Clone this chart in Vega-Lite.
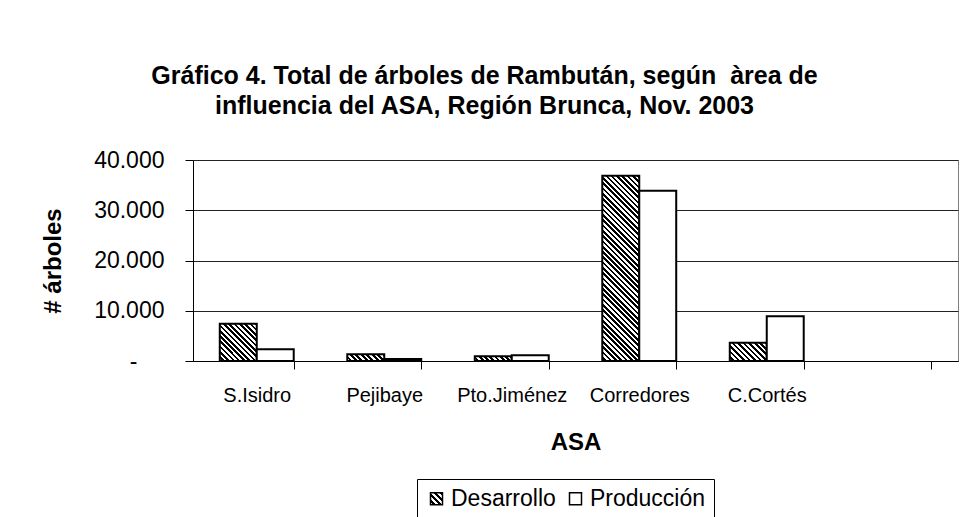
{
"$schema": "https://vega.github.io/schema/vega-lite/v6.json",
"width": 765,
"height": 201,
"autosize": {"type": "none"},
"padding": {"left": 193, "top": 160, "right": 10, "bottom": 156},
"background": "white",
"config": {"font": "Liberation Sans", "view": {"stroke": "#808080", "strokeWidth": 1}},
"title": {"text": ["Gráfico 4. Total de árboles de Rambután, según\u00a0 àrea de", "influencia del ASA, Región Brunca, Nov. 2003"], "fontSize": 25, "fontWeight": "bold", "color": "black", "lineHeight": 30, "anchor": "middle", "frame": "group", "dx": -91, "offset": 30},
"data": {"values": [
{"ASA": "S.Isidro", "Serie": "Desarrollo", "valor": 7430},
{"ASA": "S.Isidro", "Serie": "Producción", "valor": 2330},
{"ASA": "Pejibaye", "Serie": "Desarrollo", "valor": 1330},
{"ASA": "Pejibaye", "Serie": "Producción", "valor": 400},
{"ASA": "Pto.Jiménez", "Serie": "Desarrollo", "valor": 930},
{"ASA": "Pto.Jiménez", "Serie": "Producción", "valor": 1130},
{"ASA": "Corredores", "Serie": "Desarrollo", "valor": 36850},
{"ASA": "Corredores", "Serie": "Producción", "valor": 33900},
{"ASA": "C.Cortés", "Serie": "Desarrollo", "valor": 3650},
{"ASA": "C.Cortés", "Serie": "Producción", "valor": 8900}
]},
"mark": {"type": "bar", "stroke": "black", "strokeWidth": 2},
"encoding": {
"x": {"field": "ASA", "type": "nominal", "sort": null,
 "scale": {"domain": ["S.Isidro", "Pejibaye", "Pto.Jiménez", "Corredores", "C.Cortés", ""], "paddingInner": 0.42, "paddingOuter": 0.21},
 "axis": {"title": "ASA", "titleFontSize": 24, "titleFontWeight": "bold", "titleColor": "black", "titlePadding": 25, "labelAngle": 0, "labelFontSize": 20, "labelColor": "black", "labelPadding": 16, "tickBand": "extent", "tickSize": 8, "tickColor": {"condition": {"test": "datum.extra", "value": "transparent"}, "value": "black"}, "domainColor": "black", "grid": false}},
"xOffset": {"field": "Serie", "type": "nominal", "scale": {"domain": ["Desarrollo", "Producción"], "paddingInner": 0, "paddingOuter": 0}},
"y": {"field": "valor", "type": "quantitative",
 "scale": {"domain": [0, 40000], "nice": false},
 "axis": {"title": "# árboles", "titleFontSize": 24, "titleFontWeight": "bold", "titleColor": "black", "titlePadding": 28, "values": [0, 10000, 20000, 30000, 40000], "labelExpr": "datum.value == 0 ? '-' : replace(format(datum.value, ','), ',', '.')", "labelFontSize": 23, "labelColor": "black", "labelPadding": {"condition": {"test": "datum.value === 0", "value": 48}, "value": 21}, "tickSize": 8, "tickColor": "black", "domainColor": "black", "grid": true, "gridColor": "#222222", "gridWidth": 1}},
"fill": {"field": "Serie", "type": "nominal",
 "scale": {"domain": ["Desarrollo", "Producción"], "range": [{"expr": "{gradient: 'linear', x1: 0, y1: 1, x2: 1, y2: 0, stops: [{offset: 0.125, color: '#fff'}, {offset: 0.125, color: '#000'}, {offset: 0.25, color: '#000'}, {offset: 0.25, color: '#fff'}, {offset: 0.375, color: '#fff'}, {offset: 0.375, color: '#000'}, {offset: 0.5, color: '#000'}, {offset: 0.5, color: '#fff'}, {offset: 0.625, color: '#fff'}, {offset: 0.625, color: '#000'}, {offset: 0.75, color: '#000'}, {offset: 0.75, color: '#fff'}, {offset: 0.875, color: '#fff'}, {offset: 0.875, color: '#000'}]}"}, "#ffffff"]},
 "legend": {"orient": "none", "legendX": 224, "legendY": 319, "direction": "horizontal", "title": null, "strokeColor": "black", "padding": 8, "labelFontSize": 23, "labelColor": "black", "symbolType": "square", "symbolSize": 144, "symbolStrokeColor": "black", "symbolStrokeWidth": 1.5, "symbolOpacity": 1, "labelOffset": 3, "columnPadding": 8,
  "encode": {"symbols": {"update": {"stroke": {"value": "black"}, "strokeWidth": {"value": 1.5}}}}},
 "condition": [
 {"test": "datum.ASA === 'S.Isidro' && datum.Serie === 'Desarrollo'", "value": {"gradient": "linear", "x1": 0, "y1": 1, "x2": 0.9959, "y2": -0.004, "stops": [
{"offset":0.0357,"color":"#fff"},{"offset":0.0357,"color":"#000"},
{"offset":0.0714,"color":"#000"},{"offset":0.0714,"color":"#fff"},
{"offset":0.1071,"color":"#fff"},{"offset":0.1071,"color":"#000"},
{"offset":0.1429,"color":"#000"},{"offset":0.1429,"color":"#fff"},
{"offset":0.1786,"color":"#fff"},{"offset":0.1786,"color":"#000"},
{"offset":0.2143,"color":"#000"},{"offset":0.2143,"color":"#fff"},
{"offset":0.25,"color":"#fff"},{"offset":0.25,"color":"#000"},
{"offset":0.2857,"color":"#000"},{"offset":0.2857,"color":"#fff"},
{"offset":0.3214,"color":"#fff"},{"offset":0.3214,"color":"#000"},
{"offset":0.3571,"color":"#000"},{"offset":0.3571,"color":"#fff"},
{"offset":0.3929,"color":"#fff"},{"offset":0.3929,"color":"#000"},
{"offset":0.4286,"color":"#000"},{"offset":0.4286,"color":"#fff"},
{"offset":0.4643,"color":"#fff"},{"offset":0.4643,"color":"#000"},
{"offset":0.5,"color":"#000"},{"offset":0.5,"color":"#fff"},
{"offset":0.5357,"color":"#fff"},{"offset":0.5357,"color":"#000"},
{"offset":0.5714,"color":"#000"},{"offset":0.5714,"color":"#fff"},
{"offset":0.6071,"color":"#fff"},{"offset":0.6071,"color":"#000"},
{"offset":0.6429,"color":"#000"},{"offset":0.6429,"color":"#fff"},
{"offset":0.6786,"color":"#fff"},{"offset":0.6786,"color":"#000"},
{"offset":0.7143,"color":"#000"},{"offset":0.7143,"color":"#fff"},
{"offset":0.75,"color":"#fff"},{"offset":0.75,"color":"#000"},
{"offset":0.7857,"color":"#000"},{"offset":0.7857,"color":"#fff"},
{"offset":0.8214,"color":"#fff"},{"offset":0.8214,"color":"#000"},
{"offset":0.8571,"color":"#000"},{"offset":0.8571,"color":"#fff"},
{"offset":0.8929,"color":"#fff"},{"offset":0.8929,"color":"#000"},
{"offset":0.9286,"color":"#000"},{"offset":0.9286,"color":"#fff"},
{"offset":0.9643,"color":"#fff"},{"offset":0.9643,"color":"#000"}
 ]}},
 {"test": "datum.ASA === 'Pejibaye' && datum.Serie === 'Desarrollo'", "value": {"gradient": "linear", "x1": 0, "y1": 1, "x2": 1.1436, "y2": 0.7929, "stops": [
{"offset":0.0625,"color":"#fff"},{"offset":0.0625,"color":"#000"},
{"offset":0.125,"color":"#000"},{"offset":0.125,"color":"#fff"},
{"offset":0.1875,"color":"#fff"},{"offset":0.1875,"color":"#000"},
{"offset":0.25,"color":"#000"},{"offset":0.25,"color":"#fff"},
{"offset":0.3125,"color":"#fff"},{"offset":0.3125,"color":"#000"},
{"offset":0.375,"color":"#000"},{"offset":0.375,"color":"#fff"},
{"offset":0.4375,"color":"#fff"},{"offset":0.4375,"color":"#000"},
{"offset":0.5,"color":"#000"},{"offset":0.5,"color":"#fff"},
{"offset":0.5625,"color":"#fff"},{"offset":0.5625,"color":"#000"},
{"offset":0.625,"color":"#000"},{"offset":0.625,"color":"#fff"},
{"offset":0.6875,"color":"#fff"},{"offset":0.6875,"color":"#000"},
{"offset":0.75,"color":"#000"},{"offset":0.75,"color":"#fff"},
{"offset":0.8125,"color":"#fff"},{"offset":0.8125,"color":"#000"},
{"offset":0.875,"color":"#000"},{"offset":0.875,"color":"#fff"},
{"offset":0.9375,"color":"#fff"},{"offset":0.9375,"color":"#000"}
 ]}},
 {"test": "datum.ASA === 'Pto.Jiménez' && datum.Serie === 'Desarrollo'", "value": {"gradient": "linear", "x1": 0, "y1": 1, "x2": 1.1091, "y2": 0.8591, "stops": [
{"offset":0.0625,"color":"#fff"},{"offset":0.0625,"color":"#000"},
{"offset":0.125,"color":"#000"},{"offset":0.125,"color":"#fff"},
{"offset":0.1875,"color":"#fff"},{"offset":0.1875,"color":"#000"},
{"offset":0.25,"color":"#000"},{"offset":0.25,"color":"#fff"},
{"offset":0.3125,"color":"#fff"},{"offset":0.3125,"color":"#000"},
{"offset":0.375,"color":"#000"},{"offset":0.375,"color":"#fff"},
{"offset":0.4375,"color":"#fff"},{"offset":0.4375,"color":"#000"},
{"offset":0.5,"color":"#000"},{"offset":0.5,"color":"#fff"},
{"offset":0.5625,"color":"#fff"},{"offset":0.5625,"color":"#000"},
{"offset":0.625,"color":"#000"},{"offset":0.625,"color":"#fff"},
{"offset":0.6875,"color":"#fff"},{"offset":0.6875,"color":"#000"},
{"offset":0.75,"color":"#000"},{"offset":0.75,"color":"#fff"},
{"offset":0.8125,"color":"#fff"},{"offset":0.8125,"color":"#000"},
{"offset":0.875,"color":"#000"},{"offset":0.875,"color":"#fff"},
{"offset":0.9375,"color":"#fff"},{"offset":0.9375,"color":"#000"}
 ]}},
 {"test": "datum.ASA === 'Corredores' && datum.Serie === 'Desarrollo'", "value": {"gradient": "linear", "x1": 0, "y1": 1, "x2": 0.2305, "y2": -0.1537, "stops": [
{"offset":0.0119,"color":"#fff"},{"offset":0.0119,"color":"#000"},
{"offset":0.0238,"color":"#000"},{"offset":0.0238,"color":"#fff"},
{"offset":0.0357,"color":"#fff"},{"offset":0.0357,"color":"#000"},
{"offset":0.0476,"color":"#000"},{"offset":0.0476,"color":"#fff"},
{"offset":0.0595,"color":"#fff"},{"offset":0.0595,"color":"#000"},
{"offset":0.0714,"color":"#000"},{"offset":0.0714,"color":"#fff"},
{"offset":0.0833,"color":"#fff"},{"offset":0.0833,"color":"#000"},
{"offset":0.0952,"color":"#000"},{"offset":0.0952,"color":"#fff"},
{"offset":0.1071,"color":"#fff"},{"offset":0.1071,"color":"#000"},
{"offset":0.119,"color":"#000"},{"offset":0.119,"color":"#fff"},
{"offset":0.131,"color":"#fff"},{"offset":0.131,"color":"#000"},
{"offset":0.1429,"color":"#000"},{"offset":0.1429,"color":"#fff"},
{"offset":0.1548,"color":"#fff"},{"offset":0.1548,"color":"#000"},
{"offset":0.1667,"color":"#000"},{"offset":0.1667,"color":"#fff"},
{"offset":0.1786,"color":"#fff"},{"offset":0.1786,"color":"#000"},
{"offset":0.1905,"color":"#000"},{"offset":0.1905,"color":"#fff"},
{"offset":0.2024,"color":"#fff"},{"offset":0.2024,"color":"#000"},
{"offset":0.2143,"color":"#000"},{"offset":0.2143,"color":"#fff"},
{"offset":0.2262,"color":"#fff"},{"offset":0.2262,"color":"#000"},
{"offset":0.2381,"color":"#000"},{"offset":0.2381,"color":"#fff"},
{"offset":0.25,"color":"#fff"},{"offset":0.25,"color":"#000"},
{"offset":0.2619,"color":"#000"},{"offset":0.2619,"color":"#fff"},
{"offset":0.2738,"color":"#fff"},{"offset":0.2738,"color":"#000"},
{"offset":0.2857,"color":"#000"},{"offset":0.2857,"color":"#fff"},
{"offset":0.2976,"color":"#fff"},{"offset":0.2976,"color":"#000"},
{"offset":0.3095,"color":"#000"},{"offset":0.3095,"color":"#fff"},
{"offset":0.3214,"color":"#fff"},{"offset":0.3214,"color":"#000"},
{"offset":0.3333,"color":"#000"},{"offset":0.3333,"color":"#fff"},
{"offset":0.3452,"color":"#fff"},{"offset":0.3452,"color":"#000"},
{"offset":0.3571,"color":"#000"},{"offset":0.3571,"color":"#fff"},
{"offset":0.369,"color":"#fff"},{"offset":0.369,"color":"#000"},
{"offset":0.381,"color":"#000"},{"offset":0.381,"color":"#fff"},
{"offset":0.3929,"color":"#fff"},{"offset":0.3929,"color":"#000"},
{"offset":0.4048,"color":"#000"},{"offset":0.4048,"color":"#fff"},
{"offset":0.4167,"color":"#fff"},{"offset":0.4167,"color":"#000"},
{"offset":0.4286,"color":"#000"},{"offset":0.4286,"color":"#fff"},
{"offset":0.4405,"color":"#fff"},{"offset":0.4405,"color":"#000"},
{"offset":0.4524,"color":"#000"},{"offset":0.4524,"color":"#fff"},
{"offset":0.4643,"color":"#fff"},{"offset":0.4643,"color":"#000"},
{"offset":0.4762,"color":"#000"},{"offset":0.4762,"color":"#fff"},
{"offset":0.4881,"color":"#fff"},{"offset":0.4881,"color":"#000"},
{"offset":0.5,"color":"#000"},{"offset":0.5,"color":"#fff"},
{"offset":0.5119,"color":"#fff"},{"offset":0.5119,"color":"#000"},
{"offset":0.5238,"color":"#000"},{"offset":0.5238,"color":"#fff"},
{"offset":0.5357,"color":"#fff"},{"offset":0.5357,"color":"#000"},
{"offset":0.5476,"color":"#000"},{"offset":0.5476,"color":"#fff"},
{"offset":0.5595,"color":"#fff"},{"offset":0.5595,"color":"#000"},
{"offset":0.5714,"color":"#000"},{"offset":0.5714,"color":"#fff"},
{"offset":0.5833,"color":"#fff"},{"offset":0.5833,"color":"#000"},
{"offset":0.5952,"color":"#000"},{"offset":0.5952,"color":"#fff"},
{"offset":0.6071,"color":"#fff"},{"offset":0.6071,"color":"#000"},
{"offset":0.619,"color":"#000"},{"offset":0.619,"color":"#fff"},
{"offset":0.631,"color":"#fff"},{"offset":0.631,"color":"#000"},
{"offset":0.6429,"color":"#000"},{"offset":0.6429,"color":"#fff"},
{"offset":0.6548,"color":"#fff"},{"offset":0.6548,"color":"#000"},
{"offset":0.6667,"color":"#000"},{"offset":0.6667,"color":"#fff"},
{"offset":0.6786,"color":"#fff"},{"offset":0.6786,"color":"#000"},
{"offset":0.6905,"color":"#000"},{"offset":0.6905,"color":"#fff"},
{"offset":0.7024,"color":"#fff"},{"offset":0.7024,"color":"#000"},
{"offset":0.7143,"color":"#000"},{"offset":0.7143,"color":"#fff"},
{"offset":0.7262,"color":"#fff"},{"offset":0.7262,"color":"#000"},
{"offset":0.7381,"color":"#000"},{"offset":0.7381,"color":"#fff"},
{"offset":0.75,"color":"#fff"},{"offset":0.75,"color":"#000"},
{"offset":0.7619,"color":"#000"},{"offset":0.7619,"color":"#fff"},
{"offset":0.7738,"color":"#fff"},{"offset":0.7738,"color":"#000"},
{"offset":0.7857,"color":"#000"},{"offset":0.7857,"color":"#fff"},
{"offset":0.7976,"color":"#fff"},{"offset":0.7976,"color":"#000"},
{"offset":0.8095,"color":"#000"},{"offset":0.8095,"color":"#fff"},
{"offset":0.8214,"color":"#fff"},{"offset":0.8214,"color":"#000"},
{"offset":0.8333,"color":"#000"},{"offset":0.8333,"color":"#fff"},
{"offset":0.8452,"color":"#fff"},{"offset":0.8452,"color":"#000"},
{"offset":0.8571,"color":"#000"},{"offset":0.8571,"color":"#fff"},
{"offset":0.869,"color":"#fff"},{"offset":0.869,"color":"#000"},
{"offset":0.881,"color":"#000"},{"offset":0.881,"color":"#fff"},
{"offset":0.8929,"color":"#fff"},{"offset":0.8929,"color":"#000"},
{"offset":0.9048,"color":"#000"},{"offset":0.9048,"color":"#fff"},
{"offset":0.9167,"color":"#fff"},{"offset":0.9167,"color":"#000"},
{"offset":0.9286,"color":"#000"},{"offset":0.9286,"color":"#fff"},
{"offset":0.9405,"color":"#fff"},{"offset":0.9405,"color":"#000"},
{"offset":0.9524,"color":"#000"},{"offset":0.9524,"color":"#fff"},
{"offset":0.9643,"color":"#fff"},{"offset":0.9643,"color":"#000"},
{"offset":0.9762,"color":"#000"},{"offset":0.9762,"color":"#fff"},
{"offset":0.9881,"color":"#fff"},{"offset":0.9881,"color":"#000"}
 ]}},
 {"test": "datum.ASA === 'C.Cortés' && datum.Serie === 'Desarrollo'", "value": {"gradient": "linear", "x1": 0, "y1": 1, "x2": 1.2008, "y2": 0.4061, "stops": [
{"offset":0.05,"color":"#fff"},{"offset":0.05,"color":"#000"},
{"offset":0.1,"color":"#000"},{"offset":0.1,"color":"#fff"},
{"offset":0.15,"color":"#fff"},{"offset":0.15,"color":"#000"},
{"offset":0.2,"color":"#000"},{"offset":0.2,"color":"#fff"},
{"offset":0.25,"color":"#fff"},{"offset":0.25,"color":"#000"},
{"offset":0.3,"color":"#000"},{"offset":0.3,"color":"#fff"},
{"offset":0.35,"color":"#fff"},{"offset":0.35,"color":"#000"},
{"offset":0.4,"color":"#000"},{"offset":0.4,"color":"#fff"},
{"offset":0.45,"color":"#fff"},{"offset":0.45,"color":"#000"},
{"offset":0.5,"color":"#000"},{"offset":0.5,"color":"#fff"},
{"offset":0.55,"color":"#fff"},{"offset":0.55,"color":"#000"},
{"offset":0.6,"color":"#000"},{"offset":0.6,"color":"#fff"},
{"offset":0.65,"color":"#fff"},{"offset":0.65,"color":"#000"},
{"offset":0.7,"color":"#000"},{"offset":0.7,"color":"#fff"},
{"offset":0.75,"color":"#fff"},{"offset":0.75,"color":"#000"},
{"offset":0.8,"color":"#000"},{"offset":0.8,"color":"#fff"},
{"offset":0.85,"color":"#fff"},{"offset":0.85,"color":"#000"},
{"offset":0.9,"color":"#000"},{"offset":0.9,"color":"#fff"},
{"offset":0.95,"color":"#fff"},{"offset":0.95,"color":"#000"}
 ]}}
 ]}
}
}
